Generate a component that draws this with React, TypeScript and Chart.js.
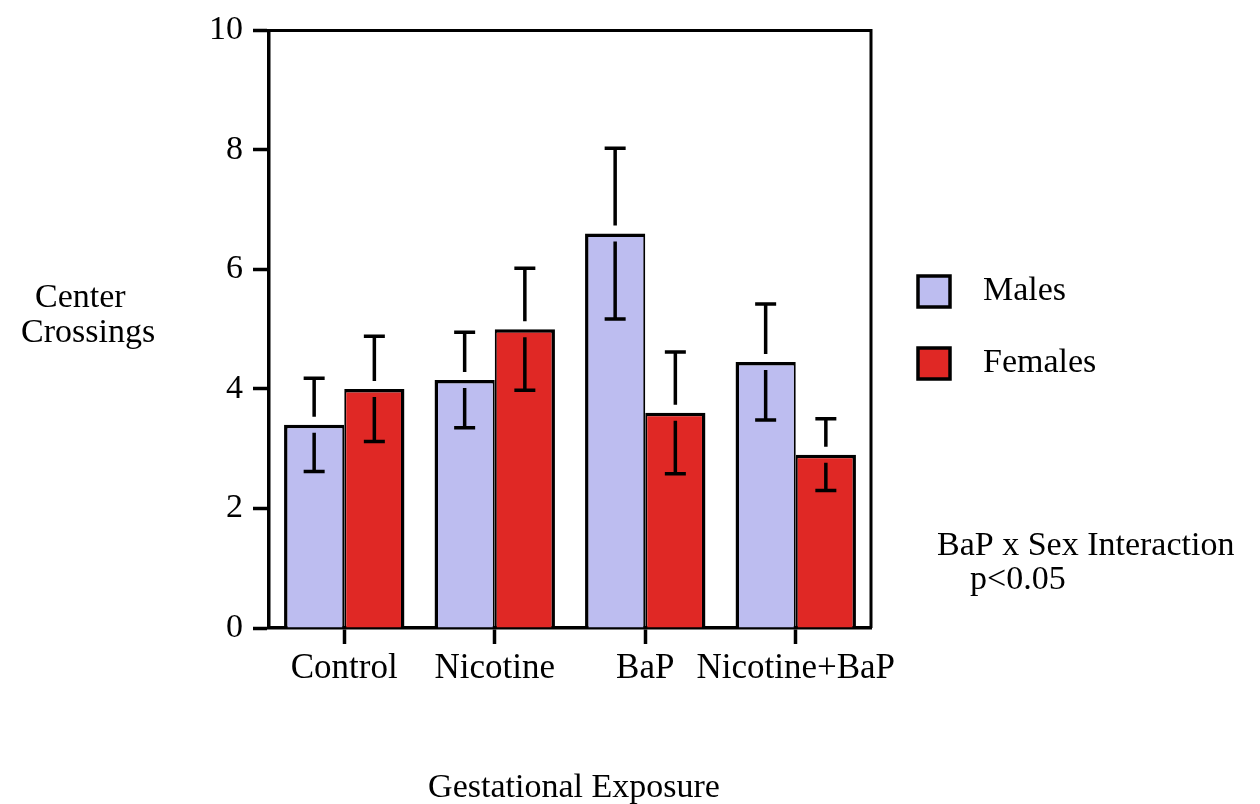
import React, { useEffect, useRef } from "react";
import { Chart, registerables } from "chart.js";

Chart.register(...registerables);

const categories = ["Control", "Nicotine", "BaP", "Nicotine+BaP"];
const malesMean = [3.4, 4.15, 6.6, 4.45];
const malesErr = [0.78, 0.8, 1.43, 0.97];
const femalesMean = [4.0, 5.0, 3.6, 2.9];
const femalesErr = [0.88, 1.02, 1.02, 0.6];
const seriesNames = ["Males", "Females"];
const seriesColors = ["#BDBDF0", "#E02825"];
const yMin = 0;
const yMax = 10;
const yStep = 2;
const yTitleLines = ["Center", "Crossings"];
const xTitle = "Gestational Exposure";
const noteLines = ["BaP x Sex Interaction", "p<0.05"];

const FONT = '"Liberation Serif", "Times New Roman", serif';
const W = 1260;
const H = 804;

const errors = [malesErr, femalesErr];

const customPlugin = {
  id: "custom",
  afterDatasetsDraw(chart: any) {
    const ctx = chart.ctx;
    const yScale = chart.scales.y;
    const { left, right, top, bottom } = chart.chartArea;
    ctx.save();
    // top & right frame
    ctx.strokeStyle = "#000";
    ctx.lineWidth = 3;
    ctx.beginPath();
    ctx.moveTo(left - 1.5, top);
    ctx.lineTo(right, top);
    ctx.lineTo(right, bottom);
    ctx.stroke();

    // error bars
    chart.data.datasets.forEach((ds: any, di: number) => {
      const meta = chart.getDatasetMeta(di);
      meta.data.forEach((bar: any, i: number) => {
        const v = ds.data[i];
        const e = errors[di][i];
        const x = bar.x;
        const yv = yScale.getPixelForValue(v);
        const yTop = yScale.getPixelForValue(v + e);
        const yBot = yScale.getPixelForValue(v - e);
        const gap = 8;
        const cap = 10.5;
        ctx.lineWidth = 3.5;
        ctx.strokeStyle = "#000";
        ctx.beginPath();
        ctx.moveTo(x, yTop);
        ctx.lineTo(x, yv - gap);
        ctx.moveTo(x - cap, yTop);
        ctx.lineTo(x + cap, yTop);
        ctx.moveTo(x, yv + gap);
        ctx.lineTo(x, yBot);
        ctx.moveTo(x - cap, yBot);
        ctx.lineTo(x + cap, yBot);
        ctx.stroke();
      });
    });

    // legend
    ctx.font = `34px ${FONT}`;
    ctx.textBaseline = "alphabetic";
    ctx.textAlign = "left";
    const legendBoxes = [276, 348];
    const legendBase = [300, 372];
    seriesNames.forEach((name, i) => {
      ctx.fillStyle = seriesColors[i];
      ctx.fillRect(918, legendBoxes[i], 32, 31);
      ctx.lineWidth = 3.5;
      ctx.strokeStyle = "#000";
      ctx.strokeRect(918, legendBoxes[i], 32, 31);
      ctx.fillStyle = "#000";
      ctx.fillText(name, 983, legendBase[i]);
    });

    // y title
    ctx.fillStyle = "#000";
    ctx.fillText(yTitleLines[0], 35, 307);
    ctx.fillText(yTitleLines[1], 21, 342);

    // note
    ctx.fillText(noteLines[0], 937, 555);
    ctx.fillText(noteLines[1], 970, 589);

    // x title
    ctx.textAlign = "center";
    ctx.fillText(xTitle, 574, 797);
    ctx.restore();
  },
};

export default function App() {
  const ref = useRef<HTMLCanvasElement | null>(null);
  useEffect(() => {
    document.body.style.margin = "0";
    const canvas = ref.current;
    if (!canvas) return;
    const chart = new Chart(canvas, {
      type: "bar",
      data: {
        labels: categories,
        datasets: [
          {
            label: seriesNames[0],
            data: malesMean,
            backgroundColor: seriesColors[0],
            borderColor: "#000",
            borderWidth: { top: 3.5, left: 3.5, right: 2, bottom: 0 },
            borderSkipped: "start",
          },
          {
            label: seriesNames[1],
            data: femalesMean,
            backgroundColor: seriesColors[1],
            borderColor: "#000",
            borderWidth: { top: 3.5, left: 2, right: 3.5, bottom: 0 },
            borderSkipped: "start",
          },
        ],
      },
      options: {
        responsive: false,
        animation: false,
        devicePixelRatio: 1,
        layout: { padding: { top: 27, right: W - 871, left: 0, bottom: 0 } },
        plugins: { legend: { display: false }, tooltip: { enabled: false } },
        datasets: { bar: { categoryPercentage: 0.8, barPercentage: 1.0 } },
        scales: {
          x: {
            afterFit: (s: any) => {
              s.height = H - 628;
            },
            grid: {
              drawOnChartArea: false,
              offset: false,
              tickLength: 16,
              tickWidth: 3.5,
              tickColor: "#000",
            },
            border: { display: true, width: 3.5, color: "#000" },
            ticks: {
              color: "#000",
              font: { family: FONT, size: 35 },
              padding: 4,
              maxRotation: 0,
              autoSkip: false,
            },
          },
          y: {
            min: yMin,
            max: yMax,
            afterFit: (s: any) => {
              s.width = 269;
            },
            grid: {
              drawOnChartArea: false,
              tickLength: 16,
              tickWidth: 3.5,
              tickColor: "#000",
            },
            border: { display: true, width: 3.5, color: "#000" },
            ticks: {
              stepSize: yStep,
              color: "#000",
              font: { family: FONT, size: 34 },
              padding: 10,
            },
          },
        },
      },
      plugins: [customPlugin],
    });
    return () => chart.destroy();
  }, []);
  return (
    <div style={{ position: "fixed", left: 0, top: 0, width: W, height: H, background: "#fff" }}>
      <canvas ref={ref} width={W} height={H} style={{ display: "block" }} />
    </div>
  );
}
